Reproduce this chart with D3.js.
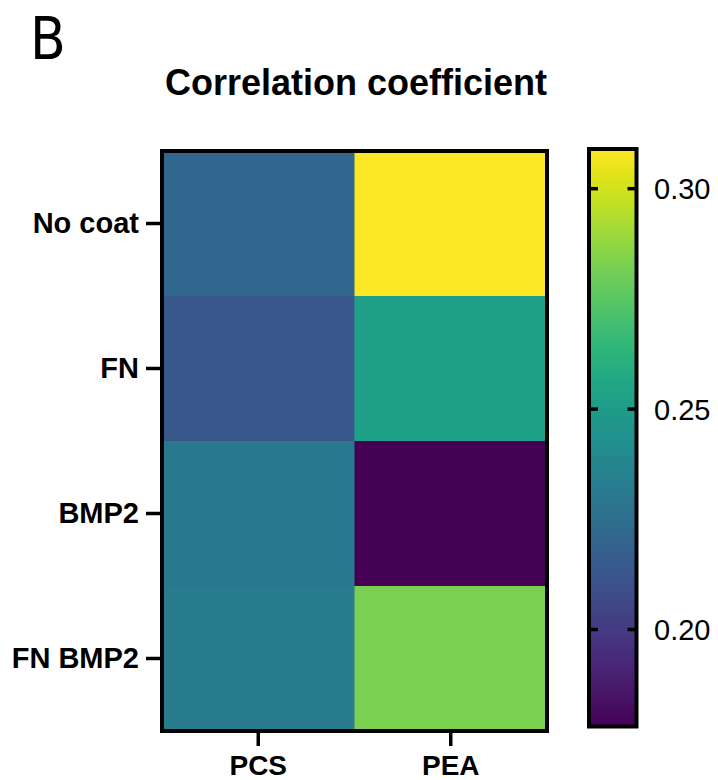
<!DOCTYPE html>
<html>
<head>
<meta charset="utf-8">
<script src="https://cdn.jsdelivr.net/npm/d3@7"></script>
<style>
  html, body { margin: 0; padding: 0; background: #fff; }
  svg { display: block; }
</style>
</head>
<body>
<svg id="chart" width="718" height="780"></svg>
<script>
// ---- data ----
const rows = ["No coat", "FN", "BMP2", "FN BMP2"];
const cols = ["PCS", "PEA"];
const pcsValues = [0.2212, 0.2134, 0.2312, 0.2318];
const peaValues = [0.3085, 0.2527, 0.1785, 0.2828];
const colorTicks = [0.20, 0.25, 0.30];
const colorDomain = [0.178, 0.309];
const titleText = "Correlation coefficient";
const panelLabel = "B";

const seriesByCol = { PCS: pcsValues, PEA: peaValues };
const cells = [];
rows.forEach((r, i) => cols.forEach(c => cells.push({ row: r, col: c, value: seriesByCol[c][i] })));

// ---- layout ----
const svg = d3.select("#chart");
const plot = { x0: 162, x1: 547, y0: 151, y1: 731 };
const cbar = { x0: 589, x1: 636.5, y0: 149, y1: 726.5 };
const fontBold = "'Liberation Sans', Arial, Helvetica, sans-serif";

const x = d3.scaleBand().domain(cols).range([plot.x0, plot.x1]);
const y = d3.scaleBand().domain(rows).range([plot.y0, plot.y1]);
const color = d3.scaleSequential(d3.interpolateViridis).domain(colorDomain);

// cells
svg.append("g").selectAll("rect").data(cells).join("rect")
  .attr("x", d => x(d.col))
  .attr("y", d => y(d.row))
  .attr("width", x.bandwidth() + 0.5)
  .attr("height", y.bandwidth() + 0.5)
  .attr("fill", d => color(d.value));

// frame
svg.append("rect")
  .attr("x", plot.x0).attr("y", plot.y0)
  .attr("width", plot.x1 - plot.x0).attr("height", plot.y1 - plot.y0)
  .attr("fill", "none").attr("stroke", "#000").attr("stroke-width", 4);

// y axis
const yAxis = svg.append("g")
  .attr("transform", `translate(${plot.x0 - 2},0)`)
  .call(d3.axisLeft(y).tickSize(14).tickPadding(7));
yAxis.select(".domain").remove();
yAxis.selectAll(".tick line").attr("stroke", "#000").attr("stroke-width", 3.5);
yAxis.selectAll(".tick text")
  .attr("fill", "#000")
  .style("font-family", fontBold).style("font-weight", "bold").style("font-size", "29px");

// x axis
const xAxis = svg.append("g")
  .attr("transform", `translate(0,${plot.y1 + 2})`)
  .call(d3.axisBottom(x).tickSize(13).tickPadding(10));
xAxis.select(".domain").remove();
xAxis.selectAll(".tick line").attr("stroke", "#000").attr("stroke-width", 3.5);
xAxis.selectAll(".tick text")
  .attr("fill", "#000")
  .attr("dy", null)
  .attr("y", 42)
  .style("font-family", fontBold).style("font-weight", "bold").style("font-size", "28px");

// title
svg.append("text")
  .attr("x", 356).attr("y", 95)
  .attr("text-anchor", "middle")
  .style("font-family", fontBold).style("font-weight", "bold").style("font-size", "36px")
  .text(titleText);

// panel label
svg.append("text")
  .attr("x", 30).attr("y", 59)
  .style("font-family", "'Liberation Sans Narrow', 'DejaVu Sans Condensed', Arial, sans-serif")
  .style("font-size", "58px")
  .attr("fill", "#000")
  .text(panelLabel);

// colorbar
const cy = d3.scaleLinear().domain(colorDomain).range([cbar.y1, cbar.y0]);
const defs = svg.append("defs");
const grad = defs.append("linearGradient").attr("id", "cbgrad")
  .attr("x1", 0).attr("y1", 1).attr("x2", 0).attr("y2", 0);
d3.range(0, 1.0001, 0.05).forEach(t => {
  grad.append("stop").attr("offset", t).attr("stop-color", d3.interpolateViridis(t));
});
svg.append("rect")
  .attr("x", cbar.x0).attr("y", cbar.y0)
  .attr("width", cbar.x1 - cbar.x0).attr("height", cbar.y1 - cbar.y0)
  .attr("fill", "url(#cbgrad)")
  .attr("stroke", "#000").attr("stroke-width", 4);

const cbTicks = svg.append("g").selectAll("g").data(colorTicks).join("g")
  .attr("transform", d => `translate(0,${cy(d)})`);
cbTicks.append("line")
  .attr("x1", cbar.x0).attr("x2", cbar.x0 + 9)
  .attr("stroke", "#000").attr("stroke-width", 3.5);
cbTicks.append("line")
  .attr("x1", cbar.x1 - 9).attr("x2", cbar.x1)
  .attr("stroke", "#000").attr("stroke-width", 3.5);
cbTicks.append("text")
  .attr("x", 654).attr("dy", "0.36em")
  .style("font-family", fontBold).style("font-size", "29px")
  .attr("fill", "#000")
  .text(d => d3.format(".2f")(d));
</script>
</body>
</html>
